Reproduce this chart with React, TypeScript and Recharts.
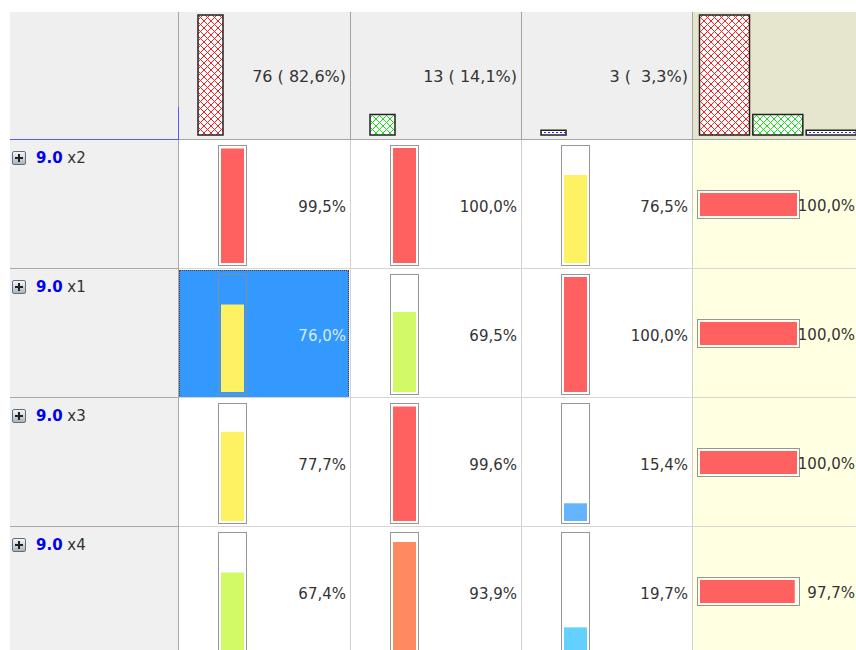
import React from 'react'
import { BarChart, Bar, XAxis, YAxis, Cell } from 'recharts'

// cluster sizes shown in the header
const clusterCounts = [76, 13, 3]
const clusterShares = [82.6, 14.1, 3.3]

// rows
const rowPrefix = '9.0'
const rowNames = ['x2', 'x1', 'x3', 'x4']
const col1Values = [99.5, 76.0, 77.7, 67.4]
const col2Values = [100.0, 69.5, 99.6, 93.9]
const col3Values = [76.5, 100.0, 15.4, 19.7]
const totalValues = [100.0, 100.0, 100.0, 97.7]
const selectedRow = 1

const headerFills = ['url(#hatch-red)', 'url(#hatch-green)', 'url(#dash-blue)']
const colLines = [178, 350, 521, 692]
const RIGHT = 855
const HEADER_TOP = 12
const ROW_TOP = 140
const ROW_H = 129
const NO_MARGIN = { top: 0, right: 0, bottom: 0, left: 0 }
const ONE_MARGIN = { top: 1, right: 1, bottom: 1, left: 1 }
const FONT = '"DejaVu Sans", Verdana, sans-serif'

const pct = (v: number) => v.toFixed(1).replace('.', ',') + '%'
const headerLabel = (c: number, s: number) =>
  `${c} (${s.toFixed(1).replace('.', ',').padStart(5)}%)`

function barColour(v: number) {
  if (v >= 99) return '#ff6060'
  if (v >= 90) return '#ff8a60'
  if (v >= 72) return '#fff262'
  if (v >= 50) return '#d2fa64'
  if (v >= 18) return '#64d0ff'
  return '#64b4ff'
}

const maxCount = Math.max(...clusterCounts)

function VBar({ value, x, y, selected }: { value: number; x: number; y: number; selected?: boolean }) {
  return (
    <div style={{
      position: 'absolute', left: x, top: y, width: 29, height: 121, boxSizing: 'border-box',
      border: `1px solid ${selected ? '#7d8fa6' : '#969696'}`, padding: 2,
      background: selected ? 'transparent' : '#fff',
    }}>
      <BarChart width={23} height={115} data={[{ name: 'v', value }]} margin={NO_MARGIN} barCategoryGap={0}>
        <XAxis dataKey="name" hide />
        <YAxis hide domain={[0, 100]} />
        <Bar dataKey="value" fill={barColour(value)} isAnimationActive={false} />
      </BarChart>
    </div>
  )
}

function HBar({ value, x, y }: { value: number; x: number; y: number }) {
  return (
    <div style={{
      position: 'absolute', left: x, top: y, width: 103, height: 29, boxSizing: 'border-box',
      border: '1px solid #969696', padding: 2, background: '#fffef0',
    }}>
      <BarChart layout="vertical" width={97} height={23} data={[{ name: 'v', value }]} margin={NO_MARGIN} barCategoryGap={0}>
        <XAxis type="number" hide domain={[0, 100]} />
        <YAxis type="category" dataKey="name" hide />
        <Bar dataKey="value" fill="#ff6060" isAnimationActive={false} />
      </BarChart>
    </div>
  )
}

function Label({ text, right, y, color = '#333', size = 15 }: { text: string; right: number; y: number; color?: string; size?: number }) {
  return (
    <div style={{
      position: 'absolute', left: right - 140, width: 140, top: y - 10, height: 20, lineHeight: '20px',
      textAlign: 'right', whiteSpace: 'pre', fontSize: size, color, fontFamily: FONT,
    }}>{text}</div>
  )
}

function Line({ x, y, w, h, c }: { x: number; y: number; w: number; h: number; c: string }) {
  return <div style={{ position: 'absolute', left: x, top: y, width: w, height: h, background: c }} />
}

function PlusIcon({ y }: { y: number }) {
  return (
    <div style={{
      position: 'absolute', left: 12, top: y, width: 14, height: 14, boxSizing: 'border-box',
      border: '1px solid #5f6f80', borderRadius: 2, background: 'linear-gradient(#f4f6f8, #aab4be)',
    }}>
      <div style={{ position: 'absolute', left: 2, top: 5, width: 8, height: 2, background: '#222' }} />
      <div style={{ position: 'absolute', left: 5, top: 2, width: 2, height: 8, background: '#222' }} />
    </div>
  )
}

export default function App() {
  const dataCols = [col1Values, col2Values, col3Values]
  const rowTops = rowNames.map((_, i) => ROW_TOP + i * ROW_H)
  const headerData = clusterCounts.map((count, i) => ({ name: `c${i}`, count }))

  return (
    <div style={{ position: 'absolute', left: 0, top: 0, width: 856, height: 650, overflow: 'hidden', background: '#fff', fontFamily: FONT }}>
      <svg width={0} height={0} style={{ position: 'absolute' }}>
        <defs>
          <pattern id="hatch-red" width={7} height={7} patternUnits="userSpaceOnUse">
            <rect width={7} height={7} fill="#fff" />
            <path d="M0,0 L7,7 M7,0 L0,7" stroke="#ff1a1a" strokeWidth={1} />
          </pattern>
          <pattern id="hatch-green" width={7} height={7} patternUnits="userSpaceOnUse">
            <rect width={7} height={7} fill="#fff" />
            <path d="M0,0 L7,7 M7,0 L0,7" stroke="#18e018" strokeWidth={1} />
          </pattern>
          <pattern id="dash-blue" width={4} height={3} patternUnits="userSpaceOnUse">
            <rect width={4} height={3} fill="#fff" />
            <rect x={0} y={1} width={2} height={1} fill="#2020ff" />
          </pattern>
        </defs>
      </svg>

      {/* backgrounds */}
      <div style={{ position: 'absolute', left: 10, top: HEADER_TOP, width: 682, height: ROW_TOP - HEADER_TOP, background: '#efefef' }} />
      <div style={{ position: 'absolute', left: 692, top: HEADER_TOP, width: 170, height: ROW_TOP - HEADER_TOP, background: '#e6e6ce' }} />
      <div style={{ position: 'absolute', left: 10, top: ROW_TOP, width: 168, height: 520, background: '#f0f0f0' }} />
      <div style={{ position: 'absolute', left: 692, top: ROW_TOP, width: 170, height: 520, background: '#ffffe2' }} />

      {/* selected cell */}
      <div style={{
        position: 'absolute', left: 179, top: rowTops[selectedRow] + 1, width: 170, height: 128, boxSizing: 'border-box',
        background: '#3399ff', border: '1px dotted #5a3a1a',
      }} />

      {/* grid lines */}
      {colLines.slice(1).map(x => <Line key={`h${x}`} x={x} y={HEADER_TOP} w={1} h={ROW_TOP - HEADER_TOP} c="#a4a4a4" />)}
      {colLines.slice(1).map(x => <Line key={`d${x}`} x={x} y={ROW_TOP} w={1} h={520} c="#d2d2d2" />)}
      <Line x={178} y={HEADER_TOP} w={1} h={95} c="#a4a4a4" />
      <Line x={178} y={107} w={1} h={33} c="#5a5aff" />
      <Line x={178} y={ROW_TOP} w={1} h={520} c="#a8a8a8" />
      <Line x={10} y={139} w={168} h={1} c="#5a5aff" />
      <Line x={179} y={139} w={690} h={1} c="#a4a4a4" />
      {rowTops.slice(1).map(y => <Line key={`l${y}`} x={10} y={y - 1} w={168} h={1} c="#a8a8a8" />)}
      {rowTops.slice(1).map(y => <Line key={`r${y}`} x={179} y={y - 1} w={690} h={1} c="#d6d6d6" />)}

      {/* header distribution */}
      {clusterCounts.map((c, i) => (
        <div key={`hb${i}`} style={{ position: 'absolute', left: colLines[i] + 19, top: 14 }}>
          <BarChart width={27} height={122} data={[headerData[i]]} margin={ONE_MARGIN} barCategoryGap={0}>
            <XAxis dataKey="name" hide />
            <YAxis hide domain={[0, maxCount]} />
            <Bar dataKey="count" fill={headerFills[i]} stroke="#222" strokeWidth={1.5} isAnimationActive={false} />
          </BarChart>
        </div>
      ))}
      {clusterCounts.map((c, i) => (
        <Label key={`hl${i}`} text={headerLabel(c, clusterShares[i])} right={colLines[i + 1] - 4} y={77} size={16} />
      ))}
      <div style={{ position: 'absolute', left: 697, top: 14 }}>
        <BarChart width={162} height={122} data={headerData} margin={ONE_MARGIN} barCategoryGap={1.5}>
          <XAxis dataKey="name" hide />
          <YAxis hide domain={[0, maxCount]} />
          <Bar dataKey="count" stroke="#222" strokeWidth={1.5} isAnimationActive={false}>
            {headerData.map((d, i) => <Cell key={d.name} fill={headerFills[i]} />)}
          </Bar>
        </BarChart>
      </div>

      {/* rows */}
      {rowNames.map((name, r) => (
        <React.Fragment key={name}>
          <PlusIcon y={rowTops[r] + 11} />
          <div style={{ position: 'absolute', left: 36, top: rowTops[r] + 8, lineHeight: '20px', fontSize: 15, whiteSpace: 'pre', fontFamily: FONT }}>
            <span style={{ color: '#0000f0', fontWeight: 'bold' }}>{rowPrefix}</span>
            <span style={{ color: '#333' }}> {name}</span>
          </div>
          {dataCols.map((vals, c) => {
            const sel = c === 0 && r === selectedRow
            return (
              <React.Fragment key={c}>
                <VBar value={vals[r]} x={colLines[c] + 40} y={rowTops[r] + 5} selected={sel} />
                <Label text={pct(vals[r])} right={colLines[c + 1] - 4} y={rowTops[r] + 67} color={sel ? '#d6ebff' : '#333'} />
              </React.Fragment>
            )
          })}
          <HBar value={totalValues[r]} x={697} y={rowTops[r] + 50} />
          <Label text={pct(totalValues[r])} right={RIGHT} y={rowTops[r] + 66} />
        </React.Fragment>
      ))}
    </div>
  )
}
